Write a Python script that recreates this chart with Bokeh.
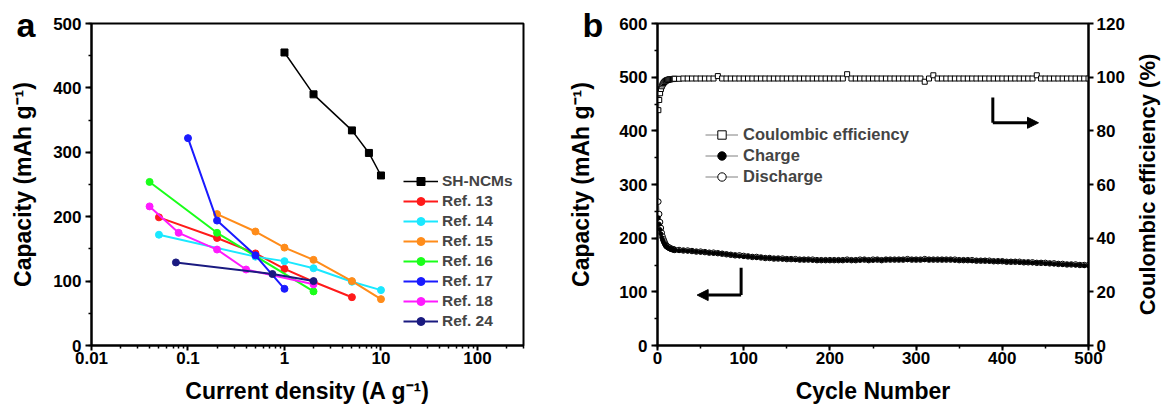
import math
from bokeh.plotting import figure
from bokeh.models import (Range1d, LinearAxis, FixedTicker, SingleIntervalTicker,
                          CustomJSTickFormatter, Legend, LegendItem, Label, Arrow, NormalHead)
from bokeh.layouts import row
from bokeh.embed import file_html
from bokeh.resources import INLINE

FONT = "Liberation Sans"

# ---------------- Panel a data ----------------
sh_x = [1, 2, 5, 7.5, 10]
sh_y = [455, 390, 334, 299, 264]
r13_x = [0.05, 0.2, 0.5, 1, 2, 5]
r13_y = [199, 167, 143, 119, 99, 75]
r14_x = [0.05, 0.5, 1, 2, 5, 10]
r14_y = [172, 138, 131, 120, 99, 86]
r15_x = [0.2, 0.5, 1, 2, 5, 10]
r15_y = [204, 177, 152, 133, 100, 72]
r16_x = [0.04, 0.2, 2]
r16_y = [254, 175, 84]
r17_x = [0.1, 0.2, 0.5, 1]
r17_y = [322, 194, 140, 88]
r18_x = [0.04, 0.08, 0.2, 0.4, 2]
r18_y = [216, 175, 149, 118, 95]
r24_x = [0.075, 0.75, 2]
r24_y = [129, 111, 100]

x_tick_labels = [0.01, 0.1, 1, 10, 100]

# ---------------- Panel b data ----------------
cycles = list(range(1, 21)) + list(range(25, 501, 5))
charge = [238, 226, 216, 208, 201, 196, 192, 189, 186, 184,
          183, 182, 181, 180, 180, 179, 179, 178, 178, 178,
          177, 177, 176, 176, 175, 174, 174, 173, 172, 172,
          171, 170, 169, 168, 167, 166, 166, 165, 164, 164,
          163, 163, 162, 162, 161, 161, 161, 160, 160, 160,
          160, 159, 159, 159, 159, 159, 159, 159, 159, 159,
          159, 159, 159, 160, 159, 159, 160, 159, 160, 160,
          160, 160, 160, 160, 160, 160, 160, 160, 160, 160,
          160, 160, 160, 160, 159, 159, 159, 159, 158, 158,
          158, 158, 157, 157, 157, 157, 156, 156, 156, 155,
          155, 155, 154, 154, 154, 153, 153, 152, 152, 151,
          151, 151, 150, 150, 149, 149]
discharge = [268, 245, 230, 219, 210, 203, 198, 194, 190, 187,
             185, 184, 183, 182, 181, 180, 180, 179, 179, 178,
             178, 177, 177, 176, 175, 175, 174, 173, 173, 172,
             171, 170, 169, 168, 168, 167, 166, 165, 165, 164,
             163, 163, 162, 162, 162, 161, 161, 161, 160, 160,
             160, 160, 159, 159, 159, 159, 159, 159, 159, 160,
             159, 159, 160, 160, 159, 160, 160, 159, 160, 160,
             160, 160, 160, 161, 160, 160, 160, 161, 160, 160,
             160, 160, 160, 160, 160, 159, 159, 159, 159, 158,
             158, 158, 158, 157, 157, 157, 156, 156, 156, 156,
             155, 155, 155, 154, 154, 154, 153, 153, 152, 152,
             151, 151, 151, 150, 150, 150]
ce = [87.7, 91.5, 94.0, 95.6, 96.6, 97.3, 97.8, 98.2, 98.5, 98.7,
      98.9, 99.0, 99.1, 99.2, 99.2, 99.3, 99.3, 99.3, 99.4, 99.4,
      99.4, 99.5, 99.5, 99.5, 99.5, 99.5, 99.5, 99.5, 99.5, 100.4,
      99.5, 99.5, 99.5, 99.5, 99.5, 99.5, 99.5, 99.5, 99.5, 99.5,
      99.5, 99.5, 99.5, 99.5, 99.5, 99.5, 99.5, 99.5, 99.5, 99.5,
      99.5, 99.5, 99.5, 99.5, 99.5, 99.5, 99.5, 99.5, 99.5, 101.1,
      99.5, 99.5, 99.5, 99.5, 99.5, 99.5, 99.5, 99.5, 99.5, 99.5,
      99.5, 99.5, 99.5, 99.5, 99.5, 99.5, 99.5, 98.3, 99.5, 100.7,
      99.5, 99.5, 99.5, 99.5, 99.5, 99.5, 99.5, 99.5, 99.5, 99.5,
      99.5, 99.5, 99.5, 99.5, 99.5, 99.5, 99.5, 99.5, 99.5, 99.5,
      99.5, 99.5, 99.5, 100.7, 99.5, 99.5, 99.5, 99.5, 99.5, 99.5,
      99.5, 99.5, 99.5, 99.5, 99.5, 99.5]


def style_axis(ax, tick_out=5, label_size="23px", standoff=0, label_standoff=6):
    ax.axis_line_width = 2
    ax.axis_line_color = "black"
    ax.major_tick_line_width = 2
    ax.minor_tick_line_width = 1.5
    ax.major_tick_out = tick_out
    ax.major_tick_in = 0
    ax.minor_tick_out = 3
    ax.minor_tick_in = 0
    ax.major_label_text_font = FONT
    ax.major_label_text_font_style = "bold"
    ax.major_label_text_font_size = "17px"
    ax.major_label_text_color = "black"
    ax.major_label_standoff = standoff
    ax.axis_label_text_font = FONT
    ax.axis_label_text_font_style = "bold"
    ax.axis_label_text_font_size = label_size
    ax.axis_label_text_color = "black"
    ax.axis_label_standoff = label_standoff


def style_fig(p):
    p.grid.visible = False
    p.outline_line_color = "black"
    p.outline_line_width = 2
    p.outline_line_alpha = 1
    p.background_fill_color = "white"
    p.border_fill_color = "white"


def text_label(text, x, y, size, angle=0.0, align="left", baseline="alphabetic"):
    return Label(x=x, y=y, x_units="screen", y_units="screen", text=text, angle=angle,
                 text_font=FONT, text_font_style="bold", text_font_size=size,
                 text_color="black", text_align=align, text_baseline=baseline)


# ================= Panel a =================
pa = figure(width=568, height=407, x_axis_type="log",
            x_range=Range1d(0.01, 300), y_range=Range1d(0, 500),
            min_border_left=91, min_border_right=45, min_border_top=23, min_border_bottom=62,
            output_backend="svg", toolbar_location=None)
style_fig(pa)

minor_log = [m * 10.0 ** e for e in range(-2, 3) for m in range(2, 10) if m * 10.0 ** e <= 300]
pa.xaxis.ticker = FixedTicker(ticks=x_tick_labels, minor_ticks=minor_log)
pa.xaxis.formatter = CustomJSTickFormatter(code="return String(Number(tick.toPrecision(6)));")
pa.yaxis.ticker = SingleIntervalTicker(interval=100, num_minor_ticks=2)
pa.xaxis.axis_label = "Current density (A g\u207b\u00b9)"
pa.yaxis.axis_label = "Capacity (mAh g\u207b\u00b9)"
style_axis(pa.xaxis[0], tick_out=5, standoff=1, label_standoff=11)
style_axis(pa.yaxis[0], tick_out=6, standoff=4, label_standoff=14)

series_a = [
    ("SH-NCMs", sh_x, sh_y, "black", "square", 1.5),
    ("Ref. 13", r13_x, r13_y, "#ff1a1a", "circle", 2),
    ("Ref. 14", r14_x, r14_y, "#1ae8ff", "circle", 2),
    ("Ref. 15", r15_x, r15_y, "#ff8c1a", "circle", 2),
    ("Ref. 16", r16_x, r16_y, "#1aff1a", "circle", 2),
    ("Ref. 17", r17_x, r17_y, "#1a1aff", "circle", 2),
    ("Ref. 18", r18_x, r18_y, "#ff1aff", "circle", 2),
    ("Ref. 24", r24_x, r24_y, "#1a1a80", "circle", 2),
]
items_a = []
for name, xs, ys, color, marker, lw in series_a:
    lr = pa.line(xs, ys, line_color=color, line_width=lw)
    sr = pa.scatter(xs, ys, marker=marker, size=7, fill_color=color, line_color=color)
    items_a.append(LegendItem(label=name, renderers=[lr, sr]))

leg_a = Legend(items=items_a, location=(312, 14), border_line_color=None,
               background_fill_alpha=0, label_text_font=FONT, label_text_font_style="bold",
               label_text_font_size="15.5px", glyph_width=35, glyph_height=20,
               label_height=20, spacing=0, padding=0, margin=0, label_standoff=4)
pa.add_layout(leg_a)

# panel letter "a" (placed via the empty right-hand panel, shifted back to the top-left)
pa.add_layout(text_label("a", -507, 321, "34px"), "right")

# ================= Panel b =================
pb = figure(width=594, height=407, x_range=Range1d(0, 500), y_range=Range1d(0, 600),
            min_border_left=89, min_border_right=74, min_border_top=23, min_border_bottom=62,
            output_backend="svg", toolbar_location=None)
style_fig(pb)
pb.extra_y_ranges = {"ce": Range1d(0, 120)}
pb.xaxis.ticker = SingleIntervalTicker(interval=100, num_minor_ticks=2)
pb.yaxis.ticker = SingleIntervalTicker(interval=100, num_minor_ticks=2)
pb.xaxis.axis_label = "Cycle Number"
style_axis(pb.xaxis[0], tick_out=5, standoff=1, label_standoff=11)
style_axis(pb.yaxis[0], tick_out=6, standoff=4)

ax_r = LinearAxis(y_range_name="ce",
                  ticker=SingleIntervalTicker(interval=20, num_minor_ticks=0))
style_axis(ax_r, tick_out=5, standoff=3)
ax_r.minor_tick_line_color = None
pb.add_layout(ax_r, "right")

pb.add_layout(text_label("Coulombic efficiency (%)", 20, 161, "22px", angle=math.pi / 2,
                         align="center", baseline="middle"), "right")
pb.add_layout(text_label("Capacity (mAh g\u207b\u00b9)", -10, 161, "23px", angle=math.pi / 2,
                         align="center", baseline="middle"), "left")
pb.add_layout(text_label("b", 13, 321, "34px"), "left")

ce_l = pb.line(cycles, ce, y_range_name="ce", line_color="gray", line_width=1)
ce_s = pb.scatter(cycles, ce, y_range_name="ce", marker="square", size=5,
                  fill_color="white", line_color="black", line_width=1)
dis_l = pb.line(cycles, discharge, line_color="gray", line_width=1)
dis_s = pb.scatter(cycles, discharge, marker="circle", size=5.5,
                   fill_color="white", line_color="black", line_width=1)
chg_l = pb.line(cycles, charge, line_color="gray", line_width=1)
chg_s = pb.scatter(cycles, charge, marker="circle", size=4,
                   fill_color="black", line_color="black", line_width=1)

leg_b = Legend(items=[LegendItem(label="Coulombic efficiency", renderers=[ce_l, ce_s]),
                      LegendItem(label="Charge", renderers=[chg_l, chg_s]),
                      LegendItem(label="Discharge", renderers=[dis_l, dis_s])],
               location=(48, 158), border_line_color=None, background_fill_alpha=0,
               label_text_font=FONT, label_text_font_style="bold", label_text_font_size="16.5px",
               glyph_width=33, glyph_height=21, label_height=21, spacing=0, padding=0,
               margin=0, label_standoff=5)
pb.add_layout(leg_b)

# direction arrows (left axis data units)
pb.line([389, 389], [462, 415], line_color="black", line_width=3)
pb.add_layout(Arrow(end=NormalHead(size=11, line_color="black", fill_color="black"),
                    x_start=389, y_start=415, x_end=442, y_end=415,
                    line_color="black", line_width=3))
pb.line([97, 97], [145, 94], line_color="black", line_width=3)
pb.add_layout(Arrow(end=NormalHead(size=11, line_color="black", fill_color="black"),
                    x_start=97, y_start=94, x_end=46, y_end=94,
                    line_color="black", line_width=3))

layout = row(pa, pb)
open("out.html", "w").write(file_html(layout, INLINE))
